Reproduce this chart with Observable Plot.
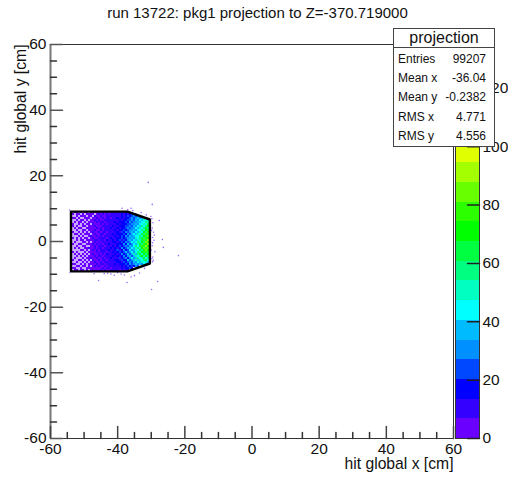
<!DOCTYPE html>
<html><head><meta charset="utf-8">
<script src="https://cdn.jsdelivr.net/npm/d3@7"></script>
<script src="https://cdn.jsdelivr.net/npm/@observablehq/plot@0.6"></script>
<style>
html,body{margin:0;padding:0;background:#fff}
#wrap{position:relative;width:508px;height:478px;overflow:hidden;font-family:"Liberation Sans",sans-serif;color:#111}
#wrap svg{position:absolute;top:0;background:transparent}
#title{position:absolute;left:0;width:515px;top:4px;text-align:center;font-size:15px}
#stats{position:absolute;left:393px;top:28px;width:100px;height:117px;background:#fff;border:1px solid #444;box-sizing:content-box;font-size:12px}
#stats .h{height:18px;line-height:18px;font-size:16px;text-align:center;border-bottom:1px solid #444}
#stats .r{position:absolute;left:4px;right:8px;display:flex;justify-content:space-between}
</style></head><body>
<div id="wrap"><div id="title">run 13722: pkg1 projection to Z=-370.719000</div><div id="stats"></div></div>
<script>
const titleAxisX = "hit global x [cm]";
const titleAxisY = "hit global y [cm]";
const majorTicks = [-60,-40,-20,0,20,40,60];
const minorTicks = [-55,-50,-45,-35,-30,-25,-15,-10,-5,5,10,15,25,30,35,45,50,55];
const barTicks = [0,20,40,60,80,100,120];
const statNames = ["Entries","Mean x","Mean y","RMS x","RMS y"];
const statValues = ["99207","-36.04","-0.2382","4.771","4.556"];
const zMax = 135;
const bandColors = ["#6a00ff","#3400ff","#0000ff","#0048ff","#0090ff","#00bcff","#00ffff","#00ffc0","#00ff80","#00ff40","#00ff00","#2cff00","#68ff00","#a4ff00","#e0ff00","#ffe800","#ffb000","#ff7800","#ff4000","#ff0000"];
const outlineX = [-53.9,-37.1,-30.4,-30.4,-37.1,-53.9,-53.9];
const outlineY = [9.1,9.1,6.7,-6.7,-9.1,-9.1,9.1];
const strayX = [-30.9,-29.7,-27.6,-21.9,-26.7,-26.4,-28.1,-29.9,-37.2,-45.7,-38.7,-36,-29.5,-29.7,-29.3,-29.6,-29.2,-29.7,-28.9,-29.5,-29.6,-32,-33.5,-35,-39,-41,-43,-44,-47,-36,-38,-31.5,-33,-54.3,-54.2,-29.8,-30.1,-29.4,-29.9,-29.6,-30,-29.1,-29.8,-35.5,-37,-40,-42,-34.6];
const strayY = [18,11.3,6.4,-4.3,0.6,-1.8,-12.2,-14.6,-12.5,-11.9,10.1,10.1,5.7,4.1,2.8,1.2,0.4,-1.3,-3.1,-4.7,-6.2,-8.2,-9.6,-10.4,-9.9,-10.3,-9.7,-9.8,-9.8,-10.8,-10.2,8.1,8.8,9.6,-9.5,6.9,7.6,-5.7,3.4,-0.4,-2.6,2,-5.2,9.4,9.7,-9.5,-9.9,8.4];
const binX0 = -54, binW = 0.6, binY0 = 9, binH = 0.6;
const hitRows = [
[3,0,4,2,0,5,0,3,2,0,4,3,5,2,6,4,7,5,3,8,6,9,7,5,10,8,11,14,17],
[0,2,0,3,1,0,4,0,3,5,2,6,0,4,7,3,8,5,9,6,7,10,8,12,9,14,11,16,13,19,22],
[4,0,0,2,0,3,2,4,0,2,5,0,7,3,5,8,4,6,9,7,11,8,10,13,9,15,12,18,21,17,24,28,23,30],
[0,3,2,0,5,0,0,1,4,3,0,6,2,8,4,6,9,5,7,10,6,12,9,14,11,16,13,20,17,23,27,24,31,35,29,38,44],
[2,0,0,4,0,1,3,0,5,0,3,4,7,2,9,5,6,10,8,7,13,9,12,10,15,13,19,17,24,21,29,26,34,30,42,37,49,43,51,44],
[0,0,3,0,2,4,0,5,0,2,6,1,3,8,4,7,11,5,9,12,8,10,14,11,17,14,16,23,19,27,25,33,30,39,36,47,41,55,48,59],
[3,1,0,0,5,0,2,0,4,3,0,7,5,2,6,9,4,8,6,10,13,9,11,15,12,18,20,16,26,22,31,28,37,33,45,41,52,47,63,68],
[0,4,0,2,0,0,6,3,0,5,2,3,8,6,4,5,10,7,12,8,9,14,10,13,19,15,17,24,21,29,26,35,31,43,38,54,46,60,69,62],
[0,0,2,0,3,5,0,0,4,1,6,4,2,9,5,8,6,11,7,9,14,8,12,16,11,20,18,22,28,24,33,29,41,36,48,44,58,66,60,77],
[5,0,0,3,0,0,2,6,0,3,5,2,7,3,6,10,5,7,12,10,8,13,15,10,17,14,23,19,25,32,27,38,33,46,42,56,50,71,64,82],
[0,2,0,0,4,0,3,0,5,0,2,8,4,6,11,4,9,8,6,13,11,9,12,18,13,21,16,27,22,30,37,31,45,39,52,47,68,59,79,74],
[0,0,5,1,0,3,0,4,2,6,0,3,9,5,3,7,12,6,10,7,9,15,11,14,20,15,24,18,30,26,34,42,36,49,44,62,54,76,67,89],
[3,0,0,0,2,0,5,0,0,3,7,2,5,10,6,8,5,11,8,13,10,12,17,12,16,22,19,28,23,35,29,40,47,41,58,51,71,63,86,81],
[0,4,0,2,0,6,0,3,4,0,4,9,3,6,8,12,7,9,6,10,15,9,13,19,14,25,17,21,31,27,38,33,50,44,55,67,60,80,73,96],
[0,0,0,3,0,2,4,0,6,2,5,3,7,11,4,7,10,6,14,8,11,16,10,15,22,13,26,20,29,36,30,46,37,53,48,63,75,66,92,87],
[5,0,2,0,0,0,3,5,0,3,0,6,8,4,9,5,13,8,7,12,9,14,18,11,17,24,15,31,23,28,41,34,44,56,49,72,58,84,78,99],
[0,3,0,0,4,2,0,0,4,6,2,10,3,7,6,11,6,10,8,15,7,11,13,20,14,19,27,18,34,25,32,47,38,52,65,54,79,69,94,85],
[2,0,0,5,0,0,6,3,0,0,5,4,8,5,12,7,9,5,13,9,12,17,10,16,23,15,25,33,22,39,29,43,55,46,61,77,64,88,74,91],
[0,0,3,0,2,0,0,4,2,7,3,6,11,4,8,10,6,12,7,10,14,9,19,12,18,28,17,24,36,27,44,35,49,59,51,70,83,62,86,80],
[4,0,0,0,0,5,3,0,5,0,2,9,3,7,5,13,8,7,11,16,8,13,15,21,13,20,30,19,26,41,31,37,53,43,66,56,73,81,68,76],
[0,2,0,4,0,0,0,6,0,4,6,2,6,10,4,7,12,9,6,12,10,18,11,14,24,16,22,34,21,30,45,33,47,58,48,69,61,78,65,83],
[0,0,5,0,3,0,2,0,3,0,3,8,4,5,11,6,9,5,14,8,13,9,16,12,19,27,15,25,38,24,35,50,39,54,64,52,74,59,71,58],
[3,0,0,2,0,4,0,5,0,6,2,4,9,3,7,10,6,12,7,11,9,15,10,20,13,17,29,18,28,40,26,36,51,42,60,68,49,72,55,63],
[0,0,2,0,0,0,5,0,3,2,7,3,5,8,4,6,13,5,9,7,16,8,12,11,22,14,21,32,20,27,43,31,40,57,45,53,65,47,60,50],
[0,5,0,0,3,2,0,3,0,4,0,9,2,6,10,5,7,11,6,13,8,10,14,17,11,24,16,19,35,23,30,38,48,34,50,41,56,62,45,52],
[2,0,0,4,0,0,4,0,6,0,5,3,7,4,6,9,5,8,12,7,10,13,9,15,18,13,26,20,25,33,24,37,32,44,39,51,43,48,40,37],
[0,3,1,0,0,5,0,2,0,3,2,6,4,8,3,7,10,6,8,11,7,12,15,10,16,14,18,23,19,28,22,30,36,27,38,33,43,35],
[4,0,0,2,3,0,2,4,0,5,0,3,7,2,9,4,6,9,5,7,11,8,10,13,9,17,12,15,21,18,25,20,29,26],
[0,2,4,0,0,3,0,0,5,2,4,1,5,3,6,5,7,4,8,9,6,10,7,12,11,14,10,17,16,22,19],
[3,0,2,5,0,4,2,0,3,0,2,5,3,6,2,7,4,8,5,6,9,7,8,11,6,12,9,13,15]
];

const allCells = hitRows.flatMap((row,k) => row.map((z,i) => ({i,k,z})));
const cells = allCells.filter(d => d.z > 0);
const emptyCells = allCells.filter(d => d.z === 0);
const cellBox = {x1: d => binX0 + d.i*binW, x2: d => binX0 + (d.i+1)*binW,
                 y1: d => binY0 - d.k*binH, y2: d => binY0 - (d.k+1)*binH, shapeRendering: "crispEdges"};
const outline = outlineX.map((x,i) => ({x, y: outlineY[i]}));
const strays = strayX.map((x,i) => ({x, y: strayY[i]}));
const bandW = zMax / bandColors.length;
const bands = bandColors.map((c,i) => ({lo:i*bandW, hi:(i+1)*bandW, c}));
const fmt = d => String(d);
const tickUp = {draw(ctx,l){ctx.moveTo(0,0);ctx.lineTo(0,-l);}};
const tickRight = {draw(ctx,l){ctx.moveTo(0,0);ctx.lineTo(l,0);}};
const tickLeft = {draw(ctx,l){ctx.moveTo(0,0);ctx.lineTo(-l,0);}};

const main = Plot.plot({
  width: 508, height: 478,
  marginLeft: 50, marginRight: 55, marginTop: 44, marginBottom: 40,
  style: {fontFamily: '"Liberation Sans",sans-serif', fontSize: "15px", color: "#111", overflow: "visible"},
  x: {domain: [-60,60], axis: null},
  y: {domain: [-60,60], axis: null},
  color: {type: "threshold", domain: bands.slice(1).map(b => b.lo), range: bandColors},
  marks: [
    Plot.rect(emptyCells, {...cellBox, fill: "#c8a8ff"}),
    Plot.rect(cells, {...cellBox, fill: d => d.z}),
    Plot.dot(strays, {x: "x", y: "y", r: 0.8, fill: "#7a3cff", fillOpacity: 0.75}),
    Plot.line(outline, {x: "x", y: "y", stroke: "#000", strokeWidth: 2.4, strokeLinejoin: "miter"}),
    Plot.frame({stroke: "#333", strokeWidth: 1}),
    Plot.ruleX([-60], {x: d => d, stroke: "#777", strokeWidth: 2}),
    Plot.vector(majorTicks, {x: d => d, frameAnchor: "bottom", length: 12, shape: tickUp, anchor: "start", stroke: "#444"}),
    Plot.vector(minorTicks, {x: d => d, frameAnchor: "bottom", length: 6, shape: tickUp, anchor: "start", stroke: "#333"}),
    Plot.vector(majorTicks, {y: d => d, frameAnchor: "left", length: 12, shape: tickRight, anchor: "start", stroke: "#555"}),
    Plot.vector(minorTicks, {y: d => d, frameAnchor: "left", length: 6, shape: tickRight, anchor: "start", stroke: "#333"}),
    Plot.axisX({ticks: majorTicks, tickSize: 0, tickPadding: 4, tickFormat: fmt, label: null, fontSize: 15.5}),
    Plot.axisY({ticks: majorTicks, tickSize: 0, tickPadding: 4, tickFormat: fmt, label: null, fontSize: 15.5}),
    Plot.text([titleAxisX], {frameAnchor: "bottom-right", dy: 30, text: d => d, fontSize: 15.7, textAnchor: "end"}),
    Plot.text([titleAxisY], {frameAnchor: "top-left", dx: -36, dy: 0, text: d => d, fontSize: 15.7, rotate: -90, textAnchor: "end"})
  ]
});
main.style.left = "0px";

const bar = Plot.plot({
  width: 58, height: 478,
  marginLeft: 5, marginRight: 29, marginTop: 44, marginBottom: 40,
  style: {fontFamily: '"Liberation Sans",sans-serif', color: "#111", overflow: "visible"},
  x: {domain: [0,1], axis: null},
  y: {domain: [0,zMax], axis: null},
  marks: [
    Plot.rectY(bands, {x1: 0, x2: 1, y1: "lo", y2: "hi", fill: "c", shapeRendering: "crispEdges"}),
    Plot.frame({stroke: "#333", strokeWidth: 1}),
    Plot.vector(barTicks, {y: d => d, frameAnchor: "right", length: 12, shape: tickLeft, anchor: "start", stroke: "#222"}),
    Plot.axisY({anchor: "right", ticks: barTicks, tickSize: 0, tickPadding: 3, tickFormat: fmt, label: null, fontSize: 15.5})
  ]
});
bar.style.left = "450px";

const wrap = document.getElementById("wrap");
wrap.insertBefore(main, wrap.firstChild);
wrap.insertBefore(bar, main.nextSibling);

const stats = document.getElementById("stats");
const h = document.createElement("div"); h.className = "h"; h.textContent = "projection"; stats.appendChild(h);
statNames.forEach((n,i) => {
  const r = document.createElement("div"); r.className = "r"; r.style.top = (23 + i*19.2) + "px";
  const a = document.createElement("span"); a.textContent = n;
  const b = document.createElement("span"); b.textContent = statValues[i];
  r.append(a,b); stats.appendChild(r);
});
</script></body></html>
